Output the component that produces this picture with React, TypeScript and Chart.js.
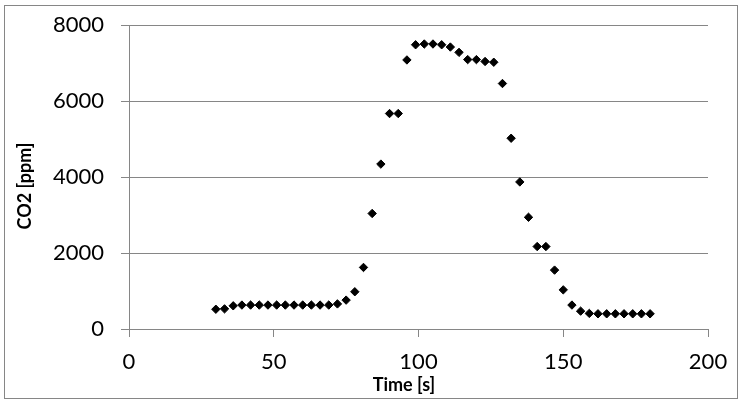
import { useEffect, useRef } from "react";
import { Chart, registerables } from "chart.js";
Chart.register(...registerables);

// Time [s] of each sample and the CO2 reading [ppm] at that time
const timeValues = [
  30, 33, 36, 39, 42, 45, 48, 51, 54, 57, 60, 63, 66, 69, 72, 75, 78, 81, 84, 87, 90, 93, 96, 99,
  102, 105, 108, 111, 114, 117, 120, 123, 126, 129, 132, 135, 138, 141, 144, 147, 150, 153, 156,
  159, 162, 165, 168, 171, 174, 177, 180,
];
const co2Values = [
  520, 530, 610, 630, 630, 630, 630, 630, 630, 630, 630, 630, 630, 630, 660, 760, 980, 1620, 3040,
  4340, 5670, 5670, 7080, 7480, 7500, 7500, 7480, 7420, 7280, 7090, 7090, 7040, 7020, 6460, 5020,
  3870, 2940, 2170, 2170, 1550, 1030, 630, 470, 410, 400, 400, 400, 400, 400, 400, 400,
];
const xTicks = { min: 0, max: 200, step: 50 };
const yTicks = { min: 0, max: 8000, step: 2000 };
const xTitle = "Time [s]";
const yTitle = "CO2 [ppm]";

const FONT = "Lato, 'Open Sans', sans-serif";
const GRID = "#868686";

const framePlugin = {
  id: "frame",
  afterDraw(chart: Chart) {
    const ctx = chart.ctx;
    ctx.save();
    // outer border round the whole chart
    ctx.strokeStyle = GRID;
    ctx.lineWidth = 1;
    ctx.strokeRect(4.5, 5.5, 733, 393);
    // axis titles
    ctx.fillStyle = "#000";
    ctx.font = `bold 18px ${FONT}`;
    ctx.textAlign = "center";
    ctx.textBaseline = "middle";
    ctx.fillText(xTitle, 404, 385);
    ctx.translate(25, 186);
    ctx.rotate(-Math.PI / 2);
    ctx.fillText(yTitle, 0, 0);
    ctx.restore();
  },
};

export default function App() {
  const canvasRef = useRef<HTMLCanvasElement | null>(null);

  useEffect(() => {
    if (!canvasRef.current) return;
    const ctx = canvasRef.current.getContext("2d");
    if (!ctx) return;

    const chart = new Chart(ctx, {
      type: "scatter",
      data: {
        datasets: [
          {
            label: yTitle,
            data: timeValues.map((t, i) => ({ x: t, y: co2Values[i] })),
            pointStyle: "rectRot",
            pointRadius: 4.2,
            pointBorderWidth: 1,
            backgroundColor: "#000",
            borderColor: "#000",
          },
        ],
      },
      options: {
        animation: false,
        responsive: false,
        layout: { padding: { top: 25, right: 35, left: 0, bottom: 0 } },
        plugins: { legend: { display: false }, tooltip: { enabled: false } },
        scales: {
          x: {
            type: "linear",
            min: xTicks.min,
            max: xTicks.max,
            ticks: {
              stepSize: xTicks.step,
              color: "#000",
              font: { family: FONT, size: 22 },
              padding: 12,
              callback: (v: any) => String(v),
            },
            grid: { drawOnChartArea: false, drawTicks: true, tickLength: 8, color: GRID },
            border: { color: GRID },
            afterFit: (scale: any) => {
              scale.height = 76;
              scale.paddingLeft = 0;
              scale.paddingRight = 0;
            },
          },
          y: {
            min: yTicks.min,
            max: yTicks.max,
            ticks: {
              stepSize: yTicks.step,
              color: "#000",
              font: { family: FONT, size: 22 },
              padding: 17,
              callback: (v: any) => String(v),
            },
            grid: { color: GRID, tickLength: 8 },
            border: { color: GRID },
            afterFit: (scale: any) => {
              scale.width = 129;
              scale.paddingTop = 0;
              scale.paddingBottom = 0;
            },
          },
        },
      },
      plugins: [framePlugin],
    });

    return () => chart.destroy();
  }, []);

  return (
    <div style={{ position: "absolute", left: 0, top: 0, width: 743, height: 405, background: "#fff" }}>
      <canvas ref={canvasRef} width={743} height={405} />
    </div>
  );
}
